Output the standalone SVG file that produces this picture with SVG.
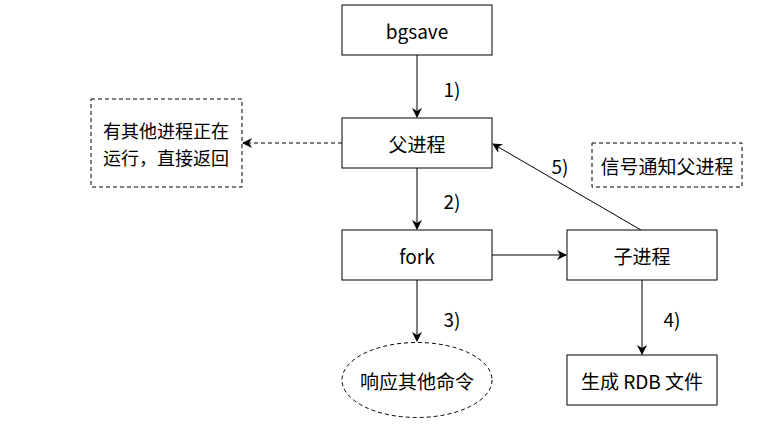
<svg xmlns="http://www.w3.org/2000/svg" width="762" height="433" viewBox="0 0 762 433">
<style>
text{font-family:"Noto Sans CJK SC","Noto Sans",sans-serif;font-size:19px;fill:#000}
.c{text-anchor:middle;dominant-baseline:central}
.s{font-size:18px}
.box{fill:#fff;stroke:#000;stroke-width:1}
.dash{fill:#fff;stroke:#000;stroke-width:1;stroke-dasharray:4 3}
.ln{fill:none;stroke:#000;stroke-width:1}
</style>
<defs>
<marker id="ah" viewBox="0 0 10 10" refX="9" refY="5" markerWidth="10" markerHeight="10" markerUnits="userSpaceOnUse" orient="auto">
<path d="M0,0 L10,5 L0,10 L3,5 Z" fill="#000"/>
</marker>
</defs>
<rect width="762" height="433" fill="#fff"/>
<g id="connectors">
<line class="ln" x1="417" y1="55" x2="417" y2="117" marker-end="url(#ah)"/>
<line class="ln" x1="342" y1="143" x2="243" y2="143" stroke-dasharray="4 3" marker-end="url(#ah)"/>
<line class="ln" x1="417" y1="168" x2="417" y2="229" marker-end="url(#ah)"/>
<line class="ln" x1="492" y1="255" x2="566" y2="255" marker-end="url(#ah)"/>
<line class="ln" x1="417" y1="280" x2="417" y2="341" marker-end="url(#ah)"/>
<line class="ln" x1="642" y1="280" x2="642" y2="354" marker-end="url(#ah)"/>
<line class="ln" x1="641" y1="230" x2="493" y2="144" marker-end="url(#ah)"/>
<text class="c" x="452" y="88">1)</text>
<text class="c" x="452" y="200">2)</text>
<text class="c" x="452" y="318">3)</text>
<text class="c" x="672" y="318">4)</text>
<text class="c" x="560" y="165">5)</text>
</g>
<g id="bgsave"><rect class="box" x="342" y="5" width="150" height="50"/><text class="c" x="417" y="30">bgsave</text></g>
<g id="parent"><rect class="box" x="342" y="118" width="150" height="50"/><text class="c" x="417" y="143">父进程</text></g>
<g id="note-running"><rect class="dash" x="91" y="99" width="151" height="88"/><text class="c s" x="166" y="130">有其他进程正在</text><text class="c s" x="166" y="157">运行，直接返回</text></g>
<g id="fork"><rect class="box" x="342" y="230" width="150" height="50"/><text class="c" x="417" y="255">fork</text></g>
<g id="child"><rect class="box" x="567" y="230" width="150" height="50"/><text class="c" x="642" y="255">子进程</text></g>
<g id="note-signal"><rect class="dash" x="592" y="143" width="150" height="44"/><text class="c" x="667" y="165">信号通知父进程</text></g>
<g id="respond"><ellipse class="dash" cx="417" cy="380" rx="75" ry="37.5"/><text class="c" x="417" y="380">响应其他命令</text></g>
<g id="rdb"><rect class="box" x="567" y="355" width="150" height="50"/><text class="c" x="642" y="380">生成 RDB 文件</text></g>
</svg>
